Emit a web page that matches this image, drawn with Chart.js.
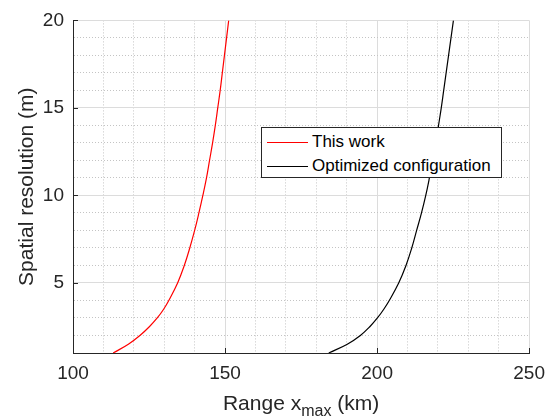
<!DOCTYPE html>
<html>
<head>
<meta charset="utf-8">
<script src="https://cdn.jsdelivr.net/npm/chart.js@4.4.1/dist/chart.umd.min.js"></script>
<style>
	body { margin: 0; background: #fff; }
	#wrap { position: relative; width: 554px; height: 420px; font-family: "Liberation Sans", Arial, sans-serif; }
	#legend { position: absolute; left: 261px; top: 127px; width: 239px; height: 49px; background: #fff; border: 1px solid #262626; }
	.row { position: absolute; left: 0; height: 24px; display: flex; align-items: center; font-size: 17px; color: #000; white-space: nowrap; }
	.row span.swatch { display: inline-block; width: 41px; margin-left: 5px; margin-right: 4px; }
</style>
</head>
<body>
<div id="wrap">
	<canvas id="chart" width="554" height="420"></canvas>
	<div id="legend"></div>
</div>
<script>
// spatial resolution (m), half steps near the bottom where the curves bend most
const resolution = [1, 1.5, 2, 2.5, 3, 3.5, 4, 5, 6, 7, 8, 9, 10, 11, 12, 13, 14, 15, 16, 17, 18, 19, 20];
// range x_max (km) for each resolution
const rangeThisWork = [113.2, 118.2, 122.0, 125.1, 127.7, 129.8, 131.5, 134.4, 136.6, 138.4, 140.0, 141.4, 142.7, 143.9, 144.9, 145.9, 146.8, 147.6, 148.4, 149.1, 149.8, 150.5, 151.2];
const rangeOptimized = [184.1, 190.2, 194.5, 197.6, 200.1, 202.2, 204.0, 207.1, 209.5, 211.4, 213.0, 214.6, 216.0, 217.2, 218.3, 219.3, 220.2, 221.1, 221.9, 222.7, 223.5, 224.3, 225.1];

const seriesNames = ["This work", "Optimized configuration"];
const seriesColors = ["#ff0000", "#000000"];

const xMajorTicks = [100, 150, 200, 250];
const yMajorTicks = [5, 10, 15, 20];

const axisColor = "#262626";

function toPoints(xs) {
	return resolution.map(function (r, i) {
		return { x: xs[i], y: r };
	});
}

// MATLAB style ticks that point into the axes, plus the x label with a subscript
const matlabAxes = {
	id: "matlabAxes",
	afterDraw: function (chart) {
		const ctx = chart.ctx;
		const area = chart.chartArea;
		const xs = chart.scales.x;
		const ys = chart.scales.y;
		ctx.save();
		ctx.strokeStyle = axisColor;
		ctx.lineWidth = 1;
		ctx.beginPath();
		xMajorTicks.forEach(function (v) {
			const px = Math.round(xs.getPixelForValue(v)) + 0.5;
			ctx.moveTo(px, area.bottom);
			ctx.lineTo(px, area.bottom - 5);
		});
		yMajorTicks.forEach(function (v) {
			const py = Math.round(ys.getPixelForValue(v)) + 0.5;
			ctx.moveTo(area.left, py);
			ctx.lineTo(area.left + 5, py);
		});
		ctx.stroke();

		// x axis label: Range x_max (km)
		const big = '21px "Liberation Sans", Arial, sans-serif';
		const small = '16px "Liberation Sans", Arial, sans-serif';
		const parts = [
			{ t: "Range x", f: big, dy: 0 },
			{ t: "max", f: small, dy: 6 },
			{ t: " (km)", f: big, dy: 0 }
		];
		let total = 0;
		parts.forEach(function (p) {
			ctx.font = p.f;
			p.w = ctx.measureText(p.t).width;
			total += p.w;
		});
		let x = (area.left + area.right) / 2 - total / 2;
		const base = 410;
		ctx.fillStyle = axisColor;
		ctx.textBaseline = "alphabetic";
		ctx.textAlign = "left";
		parts.forEach(function (p) {
			ctx.font = p.f;
			ctx.fillText(p.t, x, base + p.dy);
			x += p.w;
		});
		ctx.restore();
	}
};

const chart = new Chart(document.getElementById("chart"), {
	type: "scatter",
	data: {
		datasets: [
			{
				label: seriesNames[0],
				data: toPoints(rangeThisWork),
				showLine: true,
				borderColor: seriesColors[0],
				backgroundColor: seriesColors[0],
				borderWidth: 1.2,
				pointRadius: 0,
				tension: 0.4
			},
			{
				label: seriesNames[1],
				data: toPoints(rangeOptimized),
				showLine: true,
				borderColor: seriesColors[1],
				backgroundColor: seriesColors[1],
				borderWidth: 1.2,
				pointRadius: 0,
				tension: 0.4
			}
		]
	},
	options: {
		responsive: false,
		animation: false,
		layout: { padding: { left: 0, top: 14, right: 24, bottom: 0 } },
		plugins: {
			legend: { display: false },
			tooltip: { enabled: false }
		},
		scales: {
			x: {
				type: "linear",
				position: "bottom",
				min: 100,
				max: 250,
				afterFit: function (scale) { scale.height = 67; },
				ticks: {
					stepSize: 10,
					autoSkip: false,
					maxRotation: 0,
					padding: 9,
					color: axisColor,
					font: { family: '"Liberation Sans", Arial, sans-serif', size: 19 },
					callback: function (v) { return v % 50 === 0 ? String(v) : ""; }
				},
				grid: {
					drawTicks: false,
					color: function (c) { return c.tick && c.tick.value % 50 === 0 ? "#dcdcdc" : "#c4c4c4"; },
					lineWidth: 1
				},
				border: {
					color: axisColor,
					width: 1,
					dash: function (c) { return c.tick && c.tick.value % 50 !== 0 ? [1, 2] : []; }
				}
			},
			y: {
				type: "linear",
				position: "left",
				min: 1,
				max: 20,
				afterFit: function (scale) { scale.width = 73; },
				ticks: {
					stepSize: 1,
					autoSkip: false,
					padding: 9,
					color: axisColor,
					font: { family: '"Liberation Sans", Arial, sans-serif', size: 19 },
					callback: function (v) { return v % 5 === 0 ? String(v) : ""; }
				},
				grid: {
					drawTicks: false,
					color: function (c) { return c.tick && c.tick.value % 5 === 0 ? "#dcdcdc" : "#c4c4c4"; },
					lineWidth: 1
				},
				border: {
					color: axisColor,
					width: 1,
					dash: function (c) { return c.tick && c.tick.value % 5 !== 0 ? [1, 2] : []; }
				},
				title: {
					display: true,
					text: "Spatial resolution (m)",
					color: axisColor,
					font: { family: '"Liberation Sans", Arial, sans-serif', size: 21 },
					padding: { top: 15, bottom: 0 }
				}
			}
		}
	},
	plugins: [matlabAxes]
});

// legend box drawn from the datasets
const legend = document.getElementById("legend");
chart.data.datasets.forEach(function (ds, i) {
	const row = document.createElement("div");
	row.className = "row";
	row.style.top = (2 + i * 24) + "px";
	const sw = document.createElement("span");
	sw.className = "swatch";
	sw.style.borderTop = "1.2px solid " + ds.borderColor;
	row.appendChild(sw);
	const label = document.createElement("span");
	label.textContent = ds.label;
	row.appendChild(label);
	legend.appendChild(row);
});
</script>
</body>
</html>
